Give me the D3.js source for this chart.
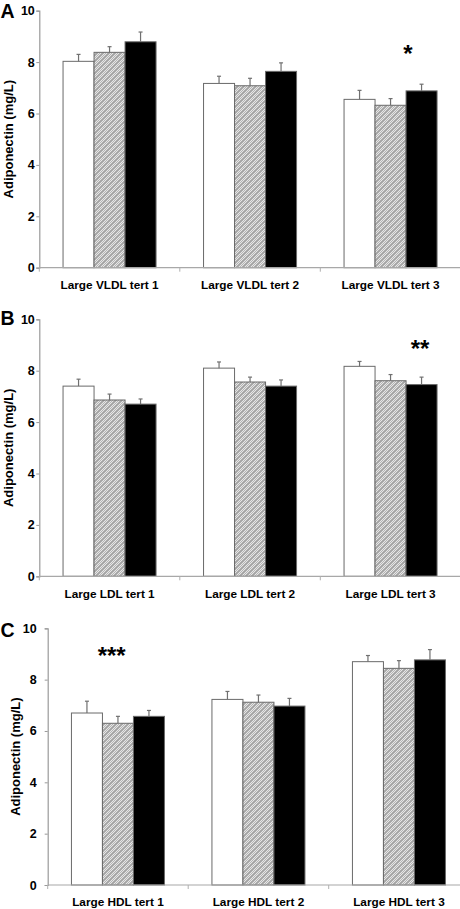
<!DOCTYPE html>
<html>
<head>
<meta charset="utf-8">
<script src="https://cdn.jsdelivr.net/npm/d3@7"></script>
<style>
  html, body { margin: 0; padding: 0; background: #fff; }
  svg { display: block; }
  text { font-family: Arial, "Liberation Sans", sans-serif; font-weight: bold; fill: #000; }
</style>
</head>
<body>
<svg id="chart" width="460" height="909"></svg>
<script>
// ---------- DATA ----------
const panelLetters = ["A", "B", "C"];
const categoriesA = ["Large VLDL tert 1", "Large VLDL tert 2", "Large VLDL tert 3"];
const categoriesB = ["Large LDL tert 1", "Large LDL tert 2", "Large LDL tert 3"];
const categoriesC = ["Large HDL tert 1", "Large HDL tert 2", "Large HDL tert 3"];
const seriesNames = ["s1", "s2", "s3"];   // white, hatched, black (no legend in original)

// mean values per series, per category
const meansA = [[8.03, 7.17, 6.55], [8.38, 7.08, 6.32], [8.79, 7.64, 6.88]];
const errorsA = [[0.27, 0.28, 0.35], [0.22, 0.29, 0.26], [0.38, 0.33, 0.26]];
const meansB = [[7.40, 8.10, 8.17], [6.86, 7.56, 7.61], [6.70, 7.40, 7.46]];
const errorsB = [[0.27, 0.24, 0.19], [0.23, 0.19, 0.24], [0.20, 0.24, 0.29]];
const meansC = [[6.70, 7.23, 8.70], [6.30, 7.12, 8.44], [6.57, 6.97, 8.77]];
const errorsC = [[0.46, 0.31, 0.24], [0.27, 0.28, 0.30], [0.23, 0.30, 0.40]];

const yTicks = [0, 2, 4, 6, 8, 10];
const yLabel = "Adiponectin (mg/L)";
const significance = ["*", "**", "***"];

// ---------- LAYOUT ----------
const panels = [
  { letter: panelLetters[0], cats: categoriesA, means: meansA, errs: errorsA, sig: significance[0],
    y0: 267.7, y10: 10.7, left: 39.3, tickPad: 0, labelX: 8, letterY: 18, sigY: 61.5, sigX: 408 },
  { letter: panelLetters[1], cats: categoriesB, means: meansB, errs: errorsB, sig: significance[1],
    y0: 576.3, y10: 319.3, left: 39.3, tickPad: 0, labelX: 8, letterY: 325, sigY: 356.5, sigX: 420 },
  { letter: panelLetters[2], cats: categoriesC, means: meansC, errs: errorsC, sig: significance[2],
    y0: 885, y10: 628.3, left: 47.7, tickPad: 6.5, labelX: 15.5, letterY: 637, sigY: 663.5, sigX: 111.7 }
];
const plotWidth = 421.5;
const fills = ["#ffffff", "url(#hatch)", "#000000"];

const svg = d3.select("#chart");

// hatch pattern: dithered light gray with diagonal stripes
const defs = svg.append("defs");
const dith = defs.append("pattern").attr("id", "dith")
  .attr("patternUnits", "userSpaceOnUse").attr("width", 2).attr("height", 2);
dith.append("rect").attr("width", 2).attr("height", 2).attr("fill", "#e6e6e6");
dith.append("rect").attr("width", 1).attr("height", 1).attr("fill", "#b4b4b4");
dith.append("rect").attr("x", 1).attr("y", 1).attr("width", 1).attr("height", 1).attr("fill", "#b4b4b4");
const pat = defs.append("pattern").attr("id", "hatch")
  .attr("patternUnits", "userSpaceOnUse").attr("width", 6).attr("height", 6);
pat.append("rect").attr("width", 6).attr("height", 6).attr("fill", "url(#dith)");
pat.append("path").attr("d", "M-1,7 L7,-1 M-4,4 L4,-4 M2,10 L10,2")
  .attr("stroke", "#a2a2a2").attr("stroke-width", 1.2);

panels.forEach(p => {
  const g = svg.append("g");
  const y = d3.scaleLinear().domain([0, 10]).range([p.y0, p.y10]);
  const x = d3.scaleBand().domain(p.cats).range([p.left, p.left + plotWidth])
    .paddingInner(0.338).paddingOuter(0.169);
  const xs = d3.scaleBand().domain(seriesNames).range([0, x.bandwidth()]).padding(0);

  // Y axis
  const yAxis = d3.axisLeft(y).tickValues(yTicks).tickSize(3).tickPadding(1.5 + p.tickPad).tickFormat(d3.format("d"));
  const ya = g.append("g").attr("transform", `translate(${p.left},0)`).call(yAxis);
  ya.select(".domain").attr("stroke", "#9a9a9a").attr("stroke-width", 1.2);
  ya.selectAll(".tick line").attr("stroke", "#9a9a9a");
  ya.selectAll(".tick text").style("font-size", "12.5px").style("font-weight", "bold")
    .style("font-family", "Arial, 'Liberation Sans', sans-serif").attr("fill", "#000");

  // Bars
  const step = x.step();
  const gap = (step - x.bandwidth()) / 2;
  seriesNames.forEach((s, si) => {
    g.append("g").selectAll("rect").data(p.cats).join("rect")
      .attr("x", c => x(c) + xs(s))
      .attr("y", (c, ci) => y(p.means[si][ci]))
      .attr("width", xs.bandwidth())
      .attr("height", (c, ci) => y(0) - y(p.means[si][ci]))
      .attr("fill", fills[si])
      .attr("stroke", "#6a6a6a")
      .attr("stroke-width", 1);
    // error bars (upper only)
    const eg = g.append("g").attr("stroke", "#707070").attr("stroke-width", 1.2);
    eg.selectAll("line.v").data(p.cats).join("line").attr("class", "v")
      .attr("x1", c => x(c) + xs(s) + xs.bandwidth() / 2)
      .attr("x2", c => x(c) + xs(s) + xs.bandwidth() / 2)
      .attr("y1", (c, ci) => y(p.means[si][ci]))
      .attr("y2", (c, ci) => y(p.means[si][ci] + p.errs[si][ci]));
    eg.selectAll("line.c").data(p.cats).join("line").attr("class", "c")
      .attr("x1", c => x(c) + xs(s) + xs.bandwidth() / 2 - 2)
      .attr("x2", c => x(c) + xs(s) + xs.bandwidth() / 2 + 2)
      .attr("y1", (c, ci) => y(p.means[si][ci] + p.errs[si][ci]))
      .attr("y2", (c, ci) => y(p.means[si][ci] + p.errs[si][ci]));
  });

  // X axis line + boundary ticks
  g.append("line").attr("x1", p.left).attr("x2", p.left + plotWidth)
    .attr("y1", y(0)).attr("y2", y(0)).attr("stroke", "#a8a8a8").attr("stroke-width", 1.2);
  const bounds = p.cats.map(c => x(c) - gap).concat([x(p.cats[p.cats.length - 1]) + x.bandwidth() + gap]);
  g.append("g").selectAll("line").data(bounds).join("line")
    .attr("x1", d => d).attr("x2", d => d)
    .attr("y1", y(0)).attr("y2", y(0) + 4)
    .attr("stroke", "#b0b0b0").attr("stroke-width", 1);

  // Category labels
  g.append("g").selectAll("text").data(p.cats).join("text")
    .attr("x", c => x(c) + x.bandwidth() / 2)
    .attr("y", y(0) + 21.3)
    .attr("text-anchor", "middle")
    .style("font-size", "11.8px")
    .text(c => c);

  // Y label
  g.append("text")
    .attr("transform", `translate(${p.labelX + 4.5},${(p.y0 + p.y10) / 2}) rotate(-90)`)
    .attr("text-anchor", "middle")
    .style("font-size", "13px")
    .text(yLabel);

  // Panel letter
  g.append("text").attr("x", 0.5).attr("y", p.letterY)
    .style("font-size", "19.5px").text(p.letter);

  // Significance stars
  g.append("text").attr("x", p.sigX).attr("y", p.sigY)
    .attr("text-anchor", "middle").style("font-size", "24px").text(p.sig);
});
</script>
</body>
</html>
